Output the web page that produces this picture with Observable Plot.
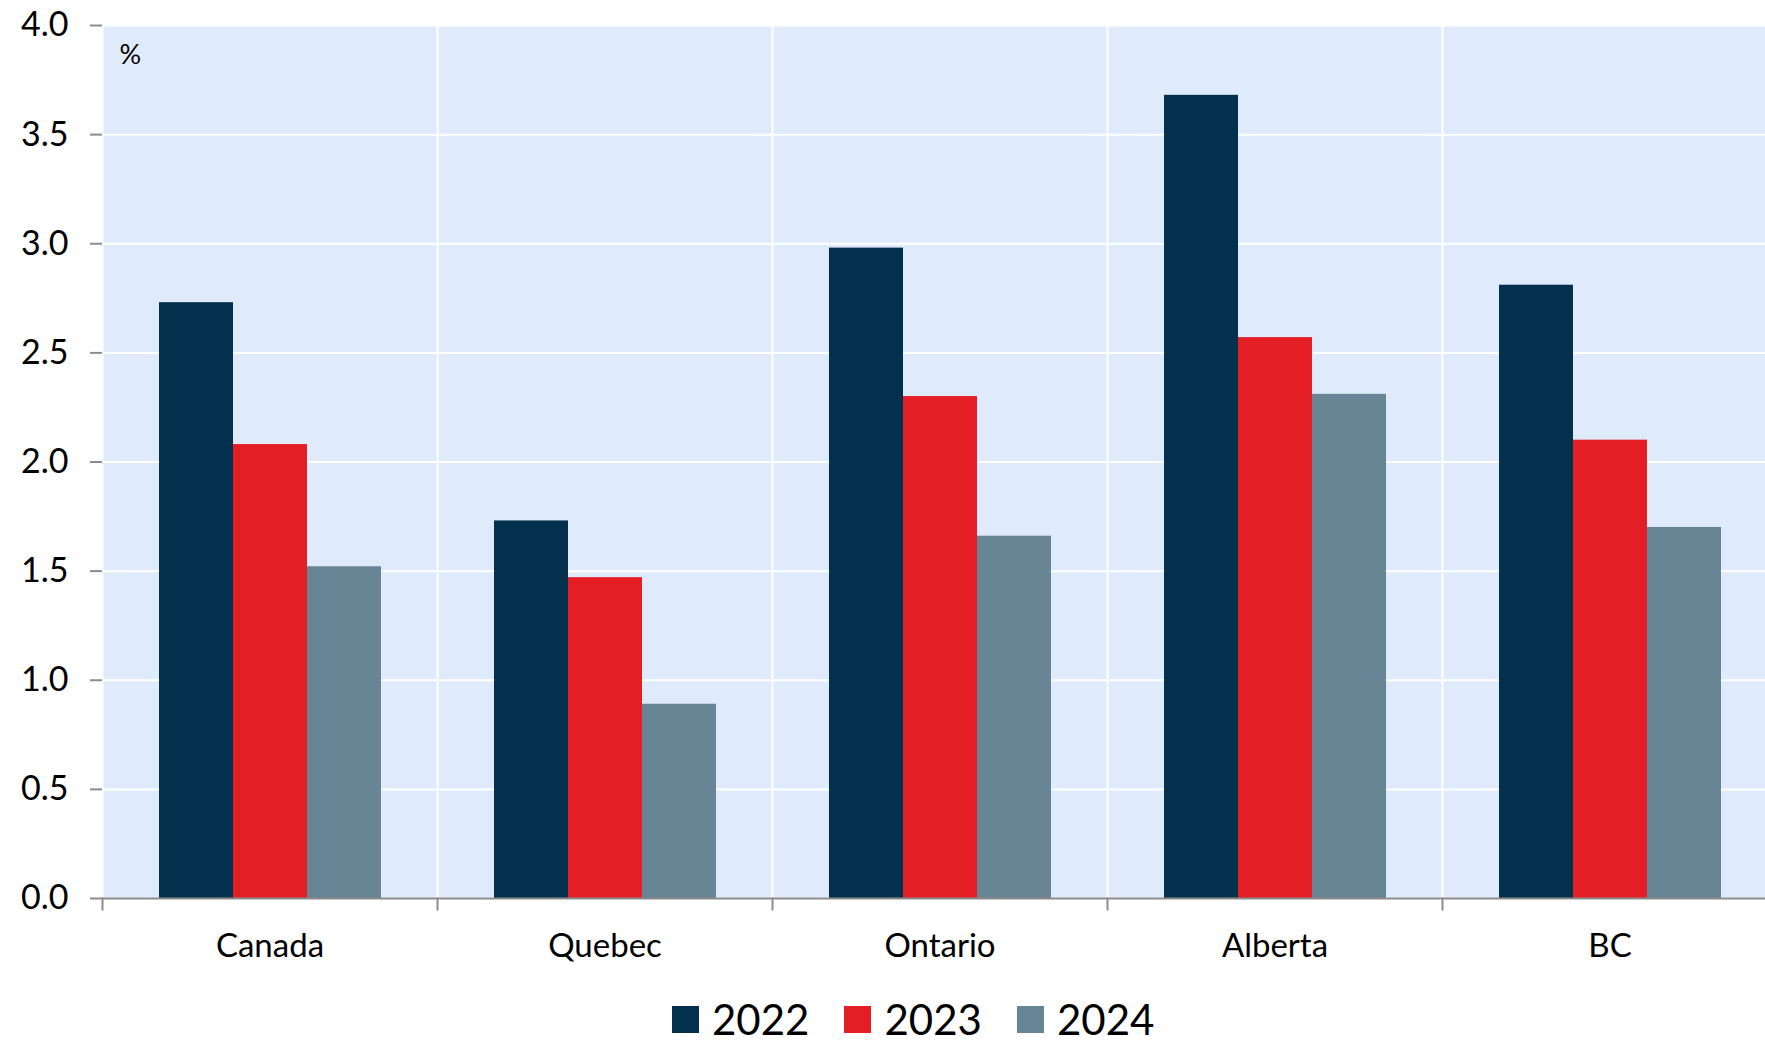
<!DOCTYPE html>
<html><head><meta charset="utf-8">
<script src="https://cdn.jsdelivr.net/npm/d3@7"></script>
<script src="https://cdn.jsdelivr.net/npm/@observablehq/plot@0.6"></script>
<style>
html,body{margin:0;padding:0;background:#fff;overflow:hidden;font-family:Lato,sans-serif;}
#legend{display:flex;align-items:center;padding-left:672px;height:43px;line-height:43px;margin-top:28px;font-size:42px;color:#000;}
.item{display:flex;align-items:center;margin-right:35px}
.sw{width:27px;height:27px;margin-right:13px}
</style></head><body><div id="chart"></div><div id="legend"></div>
<script>
const categories = ["Canada", "Quebec", "Ontario", "Alberta", "BC"];
const years = ["2022", "2023", "2024"];
const v2022 = [2.73, 1.73, 2.98, 3.68, 2.81];
const v2023 = [2.08, 1.47, 2.30, 2.57, 2.10];
const v2024 = [1.52, 0.89, 1.66, 2.31, 1.70];
const yTicks = [0, 0.5, 1.0, 1.5, 2.0, 2.5, 3.0, 3.5, 4.0];
const colors = ["#02304d", "#e31e25", "#678595"];
const unitLabel = "%";

const series = [v2022, v2023, v2024];
const data = categories.flatMap((c, i) => years.map((y, j) => ({category: c, year: y, value: series[j][i]})));

const W = 1765, H = 970, mt = 25, mb = 72, ml = 100;
const bg = "#dfeafb", axisGray = "#8c8c8c";

const plot = Plot.plot({
  width: W, height: H, marginTop: mt, marginBottom: mb, marginLeft: ml, marginRight: 0,
  style: {fontFamily: "Lato, sans-serif", background: "white", overflow: "hidden", color: "#000"},
  fx: {domain: categories, range: [ml, 1779], paddingInner: 0, paddingOuter: 0, label: null},
  x: {domain: years, paddingInner: 0, paddingOuter: 0.75, axis: null},
  y: {domain: [0, 4], label: null, axis: null},
  color: {domain: years, range: colors},
  marks: [
    Plot.frame({fill: bg, stroke: null}),
    Plot.gridY(yTicks, {stroke: "white", strokeOpacity: 1, strokeWidth: 2}),
    Plot.frame({anchor: "left", stroke: "white", strokeOpacity: 1, strokeWidth: 2}),
    Plot.barY(data, {fx: "category", x: "year", y: "value", fill: "year", inset: 0}),
    Plot.ruleY([0], {stroke: axisGray, strokeWidth: 2}),
    Plot.frame({anchor: "left", stroke: axisGray, strokeWidth: 2, insetTop: H - mt - mb, insetBottom: -11}),
    Plot.axisY(yTicks, {tickFormat: d => d.toFixed(1), tickSize: 12, tickPadding: 22, fontSize: 34, stroke: axisGray, strokeWidth: 2, line: true, fill: "#000", label: null}),
    Plot.axisFx({anchor: "bottom", tickSize: 0, tickPadding: 35, fontSize: 33, fill: "#000", label: null}),
    Plot.text([{c: categories[0], t: unitLabel}], {fx: "c", text: "t", frameAnchor: "top-left", textAnchor: "start", dx: 17, dy: 19, fontSize: 27, fill: "#000"})
  ]
});
document.getElementById("chart").appendChild(plot);

const legend = document.getElementById("legend");
years.forEach((y, i) => {
  const item = document.createElement("div");
  item.className = "item";
  const sw = document.createElement("div");
  sw.className = "sw";
  sw.style.background = colors[i];
  const t = document.createElement("span");
  t.textContent = y;
  item.appendChild(sw); item.appendChild(t);
  legend.appendChild(item);
});
</script></body></html>
